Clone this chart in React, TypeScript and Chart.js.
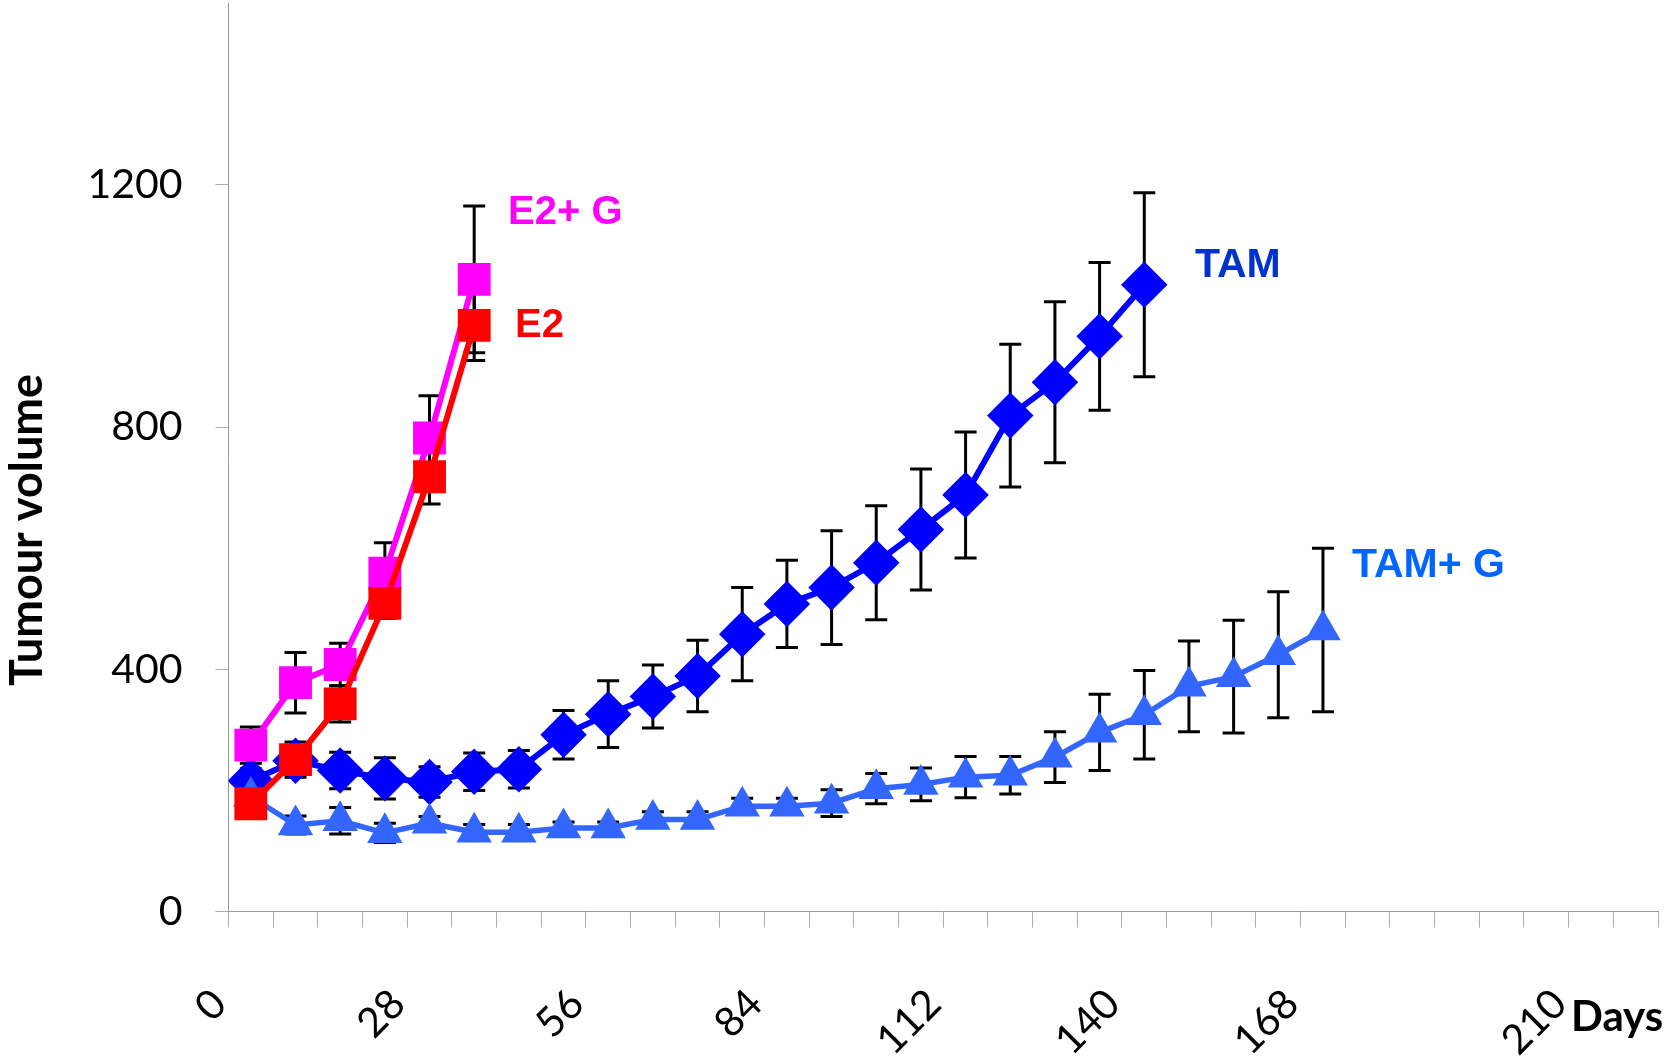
import React, { useEffect, useRef } from "react";
import { Chart, registerables } from "chart.js";

Chart.register(...registerables);

// ---- data ----
const days = [3.5, 10.5, 17.5, 24.5, 31.5, 38.5, 45.5, 52.5, 59.5, 66.5, 73.5, 80.5, 87.5, 94.5, 101.5, 108.5, 115.5, 122.5, 129.5, 136.5, 143.5, 150.5, 157.5, 164.5, 171.5];

const e2Values = [178, 251, 343, 509, 718, 968];
const e2Errors = [10, 29, 30, 25, 45, 58];

const e2gValues = [275, 378, 408, 559, 782, 1044];
const e2gErrors = [30, 50, 35, 50, 70, 121];

const tamValues = [216, 249, 233, 220, 214, 231, 235, 292, 326, 355, 389, 458, 508, 535, 576, 631, 688, 819, 874, 950, 1035];
const tamErrors = [20, 20, 30, 34, 25, 31, 31, 40, 55, 52, 59, 77, 72, 94, 94, 100, 104, 118, 133, 122, 152];

const tamgValues = [190, 143, 150, 130, 146, 131, 131, 138, 138, 152, 152, 174, 174, 179, 203, 210, 222, 225, 255, 296, 325, 372, 388, 424, 465];
const tamgErrors = [12, 15, 22, 16, 11, 13, 13, 10, 10, 13, 13, 13, 13, 22, 25, 27, 34, 31, 42, 63, 73, 75, 93, 104, 135];

const xLabelValues = [0, 28, 56, 84, 112, 140, 168, 210];
const xMin = 0;
const xMax = 224;
const xStep = 7;
const yTickValues = [0, 400, 800, 1200];
const yMax = 1500;

const seriesLabels = ["E2", "E2+ G", "TAM", "TAM+ G"];
const xTitle = "Days";
const yTitle = "Tumour volume";

const pts = (vals: number[]) => vals.map((v, i) => ({ x: days[i], y: v }));

const errorBarPlugin = {
  id: "errorBars",
  beforeDatasetsDraw(chart: any) {
    const ctx = chart.ctx;
    const ys = chart.scales.y;
    ctx.save();
    ctx.strokeStyle = "#000";
    ctx.lineWidth = 3;
    chart.data.datasets.forEach((ds: any, i: number) => {
      const meta = chart.getDatasetMeta(i);
      const errs: number[] = ds.errors || [];
      meta.data.forEach((el: any, j: number) => {
        const v = ds.data[j].y;
        const e = errs[j] || 0;
        const top = ys.getPixelForValue(v + e);
        const bot = ys.getPixelForValue(v - e);
        const x = el.x;
        const cap = 11;
        ctx.beginPath();
        ctx.moveTo(x, top);
        ctx.lineTo(x, bot);
        ctx.moveTo(x - cap, top);
        ctx.lineTo(x + cap, top);
        ctx.moveTo(x - cap, bot);
        ctx.lineTo(x + cap, bot);
        ctx.stroke();
      });
    });
    ctx.restore();
  },
};

const textPlugin = {
  id: "texts",
  afterDraw(chart: any) {
    const ctx = chart.ctx;
    ctx.save();
    ctx.textBaseline = "alphabetic";
    ctx.textAlign = "left";
    ctx.font = "bold 40px 'Liberation Sans', Arial, sans-serif";
    ctx.fillStyle = "#FF00FF";
    ctx.fillText(seriesLabels[1], 508, 224);
    ctx.fillStyle = "#FF0000";
    ctx.fillText(seriesLabels[0], 515, 337);
    ctx.font = "bold 41px 'Liberation Sans', Arial, sans-serif";
    ctx.fillStyle = "#0033CC";
    ctx.fillText(seriesLabels[2], 1195, 277);
    ctx.fillStyle = "#0066FF";
    ctx.fillText(seriesLabels[3], 1352, 577);

    ctx.fillStyle = "#000";
    ctx.font = "bold 42px Lato, sans-serif";
    ctx.fillText(xTitle, 1571, 1031);

    ctx.translate(42, 686);
    ctx.rotate(-Math.PI / 2);
    ctx.font = "bold 45px Lato, sans-serif";
    ctx.fillText(yTitle, 0, 0);
    ctx.restore();
  },
};

const zeroPad = (scale: any) => {
  scale.paddingTop = 0;
  scale.paddingBottom = 0;
  scale.paddingLeft = 0;
  scale.paddingRight = 0;
};

export default function App() {
  const ref = useRef<HTMLCanvasElement | null>(null);

  useEffect(() => {
    if (!ref.current) return;
    const chart = new Chart(ref.current, {
      type: "line",
      data: {
        datasets: [
          {
            label: seriesLabels[0],
            data: pts(e2Values),
            errors: e2Errors,
            borderColor: "#FF0000",
            backgroundColor: "#FF0000",
            pointBackgroundColor: "#FF0000",
            pointBorderColor: "#FF0000",
            borderWidth: 6,
            pointStyle: "rect",
            pointRadius: 19,
            pointHoverRadius: 19,
            tension: 0,
          } as any,
          {
            label: seriesLabels[3],
            data: pts(tamgValues),
            errors: tamgErrors,
            borderColor: "#3366FF",
            backgroundColor: "#3366FF",
            pointBackgroundColor: "#3366FF",
            pointBorderColor: "#3366FF",
            borderWidth: 5.5,
            pointStyle: "triangle",
            pointRadius: 15,
            pointHoverRadius: 15,
            tension: 0,
          } as any,
          {
            label: seriesLabels[1],
            data: pts(e2gValues),
            errors: e2gErrors,
            borderColor: "#FF00FF",
            backgroundColor: "#FF00FF",
            pointBackgroundColor: "#FF00FF",
            pointBorderColor: "#FF00FF",
            borderWidth: 6,
            pointStyle: "rect",
            pointRadius: 19,
            pointHoverRadius: 19,
            tension: 0,
          } as any,
          {
            label: seriesLabels[2],
            data: pts(tamValues),
            errors: tamErrors,
            borderColor: "#0000FF",
            backgroundColor: "#0000FF",
            pointBackgroundColor: "#0000FF",
            pointBorderColor: "#0000FF",
            borderWidth: 6,
            pointStyle: "rectRot",
            pointRadius: 19,
            pointHoverRadius: 19,
            tension: 0,
          } as any,
        ],
      },
      options: {
        responsive: false,
        animation: false,
        layout: { autoPadding: false, padding: { top: 3.2, right: 8, left: 0, bottom: 0 } },
        plugins: {
          legend: { display: false },
          tooltip: { enabled: false },
          title: { display: false },
        },
        scales: {
          x: {
            type: "linear",
            min: xMin,
            max: xMax,
            afterBuildTicks: (scale: any) => {
              const t = [];
              for (let v = xMin; v <= xMax; v += xStep) t.push({ value: v });
              scale.ticks = t;
            },
            afterFit: (scale: any) => {
              scale.height = 149.4;
              zeroPad(scale);
            },
            ticks: {
              autoSkip: false,
              minRotation: 45,
              maxRotation: 45,
              padding: 52,
              labelOffset: -9,
              color: "#000",
              font: { family: "Lato", size: 41 },
              callback: (v: any) => (xLabelValues.includes(Number(v)) ? String(v) : ""),
            },
            grid: {
              drawOnChartArea: false,
              drawTicks: true,
              tickLength: 16,
              color: "#ADADAD",
              lineWidth: 1,
            },
            border: { color: "#999999", width: 1 },
          },
          y: {
            type: "linear",
            min: 0,
            max: yMax,
            afterBuildTicks: (scale: any) => {
              scale.ticks = yTickValues.map((v) => ({ value: v }));
            },
            afterFit: (scale: any) => {
              scale.width = 228.5;
              zeroPad(scale);
            },
            ticks: {
              padding: 33,
              color: "#000",
              font: { family: "Lato", size: 41 },
              callback: (v: any) => String(v),
            },
            grid: {
              drawOnChartArea: false,
              drawTicks: true,
              tickLength: 13,
              color: "#ADADAD",
              lineWidth: 1,
            },
            border: { color: "#999999", width: 1 },
          },
        },
      } as any,
      plugins: [errorBarPlugin, textPlugin],
    });
    return () => chart.destroy();
  }, []);

  return (
    <div style={{ position: "absolute", left: 0, top: 0, width: 1666, height: 1061, background: "#fff" }}>
      <canvas ref={ref} width={1666} height={1061} style={{ width: 1666, height: 1061, display: "block" }} />
    </div>
  );
}
